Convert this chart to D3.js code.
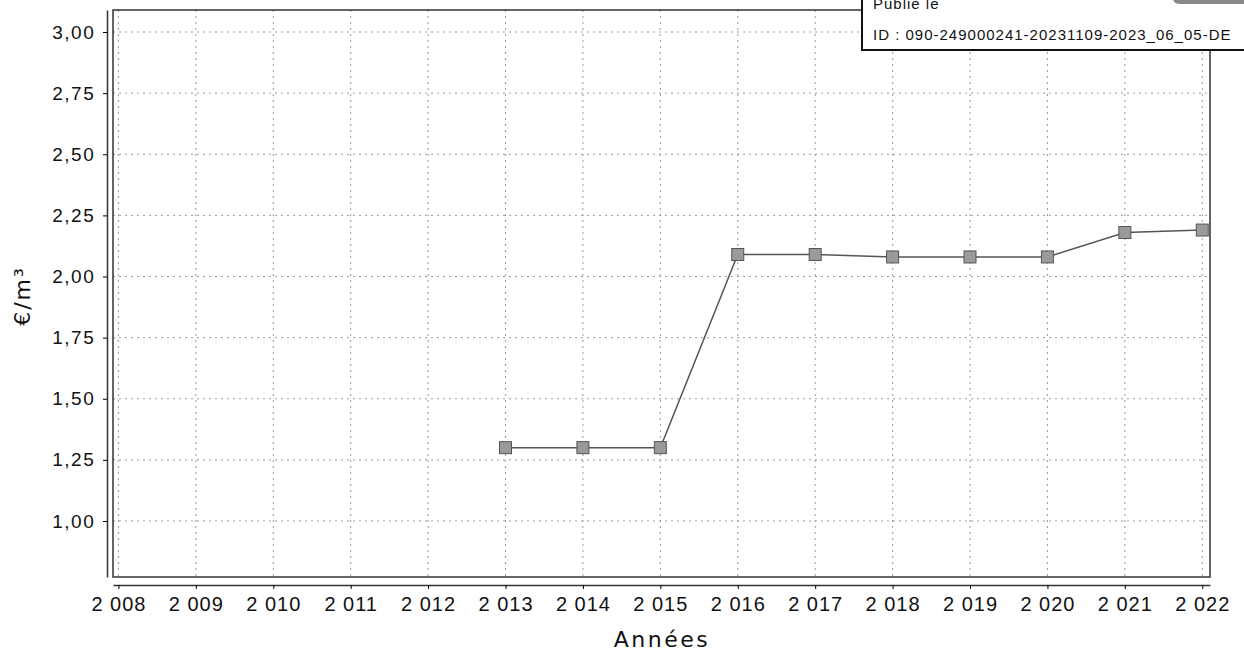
<!DOCTYPE html>
<html>
<head>
<meta charset="utf-8">
<script src="https://cdn.jsdelivr.net/npm/d3@7"></script>
<style>
  body { margin: 0; background: #fff; }
  svg { display: block; font-family: "DejaVu Sans", sans-serif; }
</style>
</head>
<body>
<div id="chart"></div>
<script>
// data
const years = [2013, 2014, 2015, 2016, 2017, 2018, 2019, 2020, 2021, 2022];
const prices = [1.30, 1.30, 1.30, 2.09, 2.09, 2.08, 2.08, 2.08, 2.18, 2.19];
const xTicks = [2008, 2009, 2010, 2011, 2012, 2013, 2014, 2015, 2016, 2017, 2018, 2019, 2020, 2021, 2022];
const yTicks = [1.00, 1.25, 1.50, 1.75, 2.00, 2.25, 2.50, 2.75, 3.00];
const stampLines = ["Publié le", "ID : 090-249000241-20231109-2023_06_05-DE"];

const W = 1244, H = 653;
const plot = { left: 113, right: 1210, top: 10, bottom: 577 };

const svg = d3.select("#chart").append("svg")
  .attr("width", W)
  .attr("height", H);

const x = d3.scaleLinear()
  .domain([2007.93, 2022.1])
  .range([plot.left, plot.right]);

const y = d3.scaleLinear()
  .domain([0.771, 3.09])
  .range([plot.bottom, plot.top]);

// grid
const grid = svg.append("g");
grid.selectAll("line.gx").data(xTicks).join("line")
  .attr("x1", d => x(d)).attr("x2", d => x(d))
  .attr("y1", plot.top).attr("y2", plot.bottom)
  .attr("stroke", "#999").attr("stroke-width", 1)
  .attr("stroke-dasharray", "2,4");
grid.selectAll("line.gy").data(yTicks).join("line")
  .attr("x1", plot.left).attr("x2", plot.right)
  .attr("y1", d => y(d)).attr("y2", d => y(d))
  .attr("stroke", "#999").attr("stroke-width", 1)
  .attr("stroke-dasharray", "2,4");

// plot frame
svg.append("rect")
  .attr("x", plot.left).attr("y", plot.top)
  .attr("width", plot.right - plot.left).attr("height", plot.bottom - plot.top)
  .attr("fill", "none").attr("stroke", "#333").attr("stroke-width", 1.5);

// axes, offset from the frame
const fmtY = d => d3.format(".2f")(d).replace(".", ",");
const fmtX = d => String(d).slice(0, 1) + " " + String(d).slice(1);

const xAxis = svg.append("g")
  .attr("transform", `translate(0,585)`)
  .call(d3.axisBottom(x).tickValues(xTicks).tickFormat(fmtX).tickSize(4).tickSizeOuter(0));
xAxis.select(".domain").attr("stroke", "#333").attr("stroke-width", 1.5);
xAxis.selectAll("text")
  .attr("font-size", 20).attr("fill", "#111")
  .attr("letter-spacing", 1).attr("dy", "0.95em");

const yAxis = svg.append("g")
  .attr("transform", `translate(107,0)`)
  .call(d3.axisLeft(y).tickValues(yTicks).tickFormat(fmtY).tickSize(4).tickSizeOuter(0));
yAxis.select(".domain").attr("stroke", "#333").attr("stroke-width", 1.5);
yAxis.selectAll("text")
  .attr("font-size", 19).attr("fill", "#111")
  .attr("letter-spacing", 1.5).attr("dx", "-0.25em");

// axis titles
svg.append("text")
  .attr("x", 662).attr("y", 647)
  .attr("text-anchor", "middle")
  .attr("font-size", 22).attr("letter-spacing", 2.5).attr("fill", "#111")
  .text("Années");

svg.append("text")
  .attr("transform", `translate(30,296) rotate(-90)`)
  .attr("text-anchor", "middle")
  .attr("font-size", 22).attr("letter-spacing", 2).attr("fill", "#111")
  .text("€/m³");

// series
const pts = years.map((d, i) => ({ year: d, value: prices[i] }));

const line = d3.line()
  .x(d => x(d.year))
  .y(d => y(d.value));

svg.append("path")
  .datum(pts)
  .attr("fill", "none")
  .attr("stroke", "#555")
  .attr("stroke-width", 1.5)
  .attr("d", line);

svg.selectAll("rect.pt").data(pts).join("rect")
  .attr("class", "pt")
  .attr("x", d => x(d.year) - 6)
  .attr("y", d => y(d.value) - 6)
  .attr("width", 12).attr("height", 12)
  .attr("fill", "#9a9a9a")
  .attr("stroke", "#555").attr("stroke-width", 1);

// stamp box in the top right
const stamp = svg.append("g");
stamp.append("rect")
  .attr("x", 862).attr("y", -4)
  .attr("width", 400).attr("height", 54)
  .attr("fill", "#fff").attr("stroke", "#111").attr("stroke-width", 2);
stamp.append("rect")
  .attr("x", 1173).attr("y", -10)
  .attr("width", 80).attr("height", 14).attr("rx", 6)
  .attr("fill", "#888");
stamp.selectAll("text").data(stampLines).join("text")
  .attr("x", 873)
  .attr("y", (d, i) => 9 + i * 31)
  .attr("font-family", "'Liberation Sans', Arial, sans-serif")
  .attr("font-size", 15).attr("letter-spacing", 1).attr("fill", "#111")
  .text(d => d);
</script>
</body>
</html>
